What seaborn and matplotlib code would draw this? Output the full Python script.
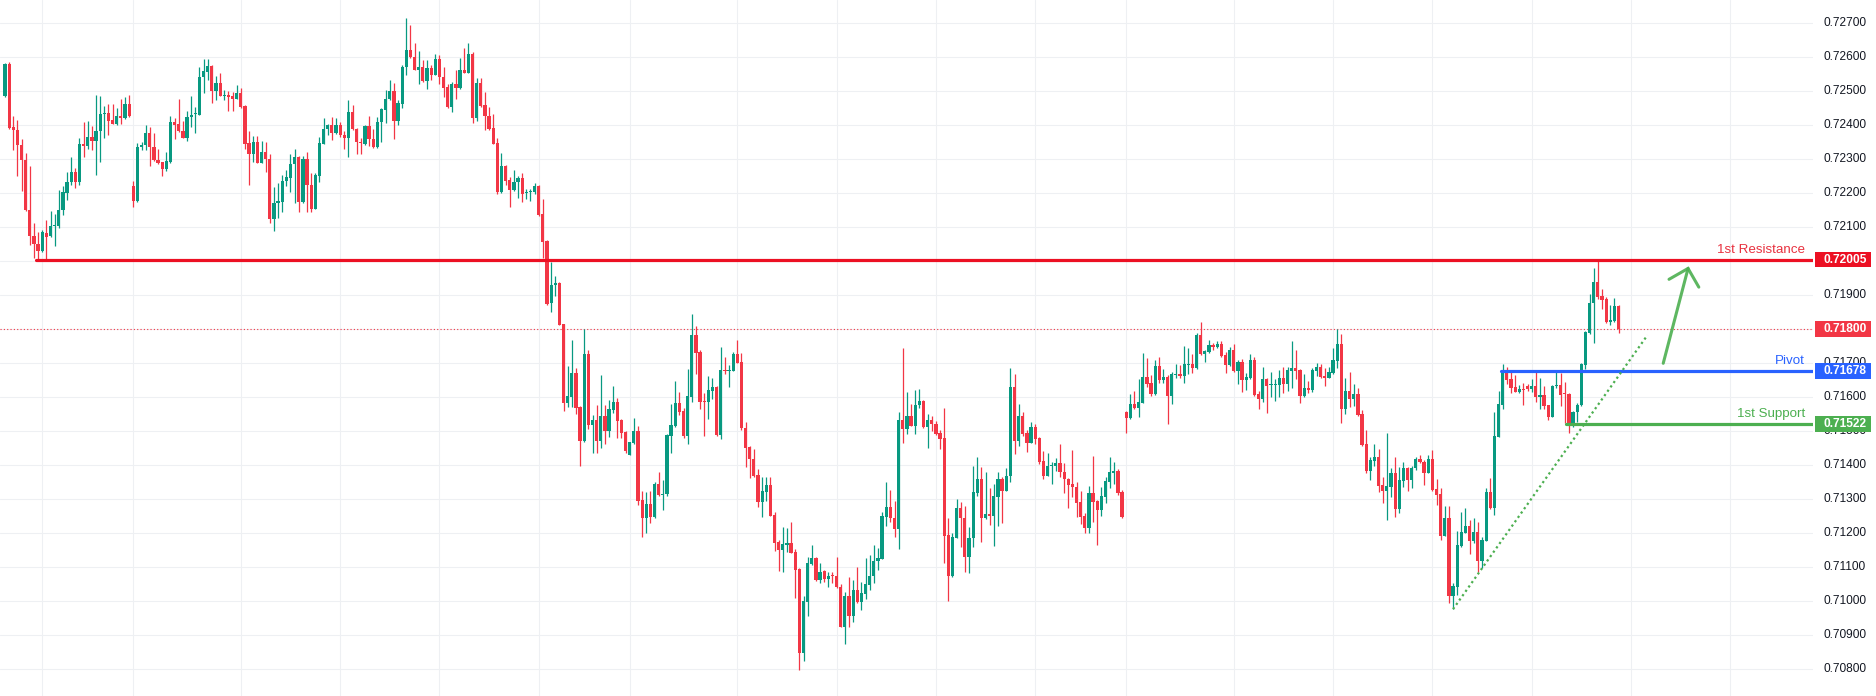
import numpy as np
import pandas as pd
import matplotlib
matplotlib.use("Agg")
import matplotlib.pyplot as plt
import seaborn as sns
from matplotlib.patches import Rectangle

# hourly candles (price)
opens = [
    0.72485, 0.72581, 0.72396, 0.72387, 0.72343, 0.72299, 0.72152, 0.72075, 0.72052, 0.72029,
    0.72084, 0.72073, 0.72105, 0.72105, 0.72150, 0.72202, 0.72232, 0.72263, 0.72234, 0.72346,
    0.72338, 0.72366, 0.72355, 0.72382, 0.72432, 0.72437, 0.72416, 0.72405, 0.72427, 0.72420,
    0.72463, 0.72222, 0.72176, 0.72335, 0.72341, 0.72378, 0.72337, 0.72299, 0.72292, 0.72270,
    0.72293, 0.72410, 0.72404, 0.72384, 0.72364, 0.72423, 0.72432, 0.72431, 0.72541, 0.72558,
    0.72575, 0.72502, 0.72525, 0.72487, 0.72489, 0.72486, 0.72478, 0.72495, 0.72457, 0.72348,
    0.72317, 0.72351, 0.72290, 0.72322, 0.72302, 0.72123, 0.72171, 0.72173, 0.72235, 0.72244,
    0.72287, 0.72308, 0.72173, 0.72302, 0.72224, 0.72155, 0.72252, 0.72346, 0.72388, 0.72400,
    0.72377, 0.72400, 0.72372, 0.72364, 0.72440, 0.72390, 0.72351, 0.72346, 0.72398, 0.72361,
    0.72337, 0.72410, 0.72446, 0.72476, 0.72502, 0.72414, 0.72464, 0.72570, 0.72622, 0.72600,
    0.72564, 0.72572, 0.72529, 0.72569, 0.72549, 0.72595, 0.72542, 0.72513, 0.72454, 0.72520,
    0.72511, 0.72564, 0.72555, 0.72610, 0.72421, 0.72525, 0.72459, 0.72428, 0.72393, 0.72348,
    0.72204, 0.72281, 0.72239, 0.72211, 0.72232, 0.72246, 0.72201, 0.72204, 0.72203, 0.72222,
    0.72139, 0.72059, 0.71876, 0.71929, 0.71937, 0.71815, 0.71584, 0.71602, 0.71671, 0.71571,
    0.71472, 0.71727, 0.71519, 0.71533, 0.71472, 0.71545, 0.71502, 0.71564, 0.71587, 0.71533,
    0.71498, 0.71431, 0.71466, 0.71500, 0.71298, 0.71246, 0.71286, 0.71249, 0.71345, 0.71313,
    0.71315, 0.71486, 0.71516, 0.71583, 0.71560, 0.71486, 0.71602, 0.71783, 0.71733, 0.71589,
    0.71587, 0.71619, 0.71631, 0.71489, 0.71680, 0.71678, 0.71678, 0.71727, 0.71704, 0.71511,
    0.71455, 0.71418, 0.71371, 0.71293, 0.71322, 0.71342, 0.71254, 0.71175, 0.71151, 0.71167,
    0.71171, 0.71145, 0.71094, 0.70849, 0.70999, 0.71110, 0.71126, 0.71063, 0.71089, 0.71066,
    0.71075, 0.71075, 0.71043, 0.70925, 0.71017, 0.70958, 0.71034, 0.70999, 0.71022, 0.71049,
    0.71073, 0.71118, 0.71125, 0.71249, 0.71277, 0.71246, 0.71214, 0.71533, 0.71507, 0.71545,
    0.71517, 0.71576, 0.71590, 0.71512, 0.71533, 0.71522, 0.71495, 0.71480, 0.71195, 0.71073,
    0.71187, 0.71274, 0.71246, 0.71131, 0.71185, 0.71320, 0.71360, 0.71246, 0.71257, 0.71252,
    0.71308, 0.71360, 0.71325, 0.71368, 0.71630, 0.71472, 0.71545, 0.71495, 0.71467, 0.71512,
    0.71480, 0.71413, 0.71370, 0.71397, 0.71397, 0.71408, 0.71381, 0.71360, 0.71345, 0.71337,
    0.71292, 0.71251, 0.71217, 0.71320, 0.71295, 0.71269, 0.71308, 0.71352, 0.71378, 0.71383,
    0.71322, 0.71557, 0.71540, 0.71580, 0.71569, 0.71584, 0.71660, 0.71641, 0.71610, 0.71692,
    0.71651, 0.71660, 0.71605, 0.71667, 0.71669, 0.71663, 0.71696, 0.71698, 0.71686, 0.71783,
    0.71727, 0.71733, 0.71754, 0.71748, 0.71757, 0.71724, 0.71695, 0.71739, 0.71677, 0.71704,
    0.71651, 0.71657, 0.71710, 0.71610, 0.71595, 0.71654, 0.71636, 0.71636, 0.71636, 0.71657,
    0.71639, 0.71678, 0.71686, 0.71680, 0.71604, 0.71627, 0.71621, 0.71678, 0.71689, 0.71663,
    0.71658, 0.71672, 0.71707, 0.71757, 0.71566, 0.71619, 0.71595, 0.71610, 0.71551, 0.71463,
    0.71383, 0.71413, 0.71424, 0.71342, 0.71324, 0.71336, 0.71377, 0.71272, 0.71355, 0.71391,
    0.71357, 0.71391, 0.71419, 0.71411, 0.71378, 0.71419, 0.71329, 0.71316, 0.71193, 0.71244,
    0.71017, 0.71042, 0.71164, 0.71202, 0.71222, 0.71176, 0.71204, 0.71120, 0.71178, 0.71322,
    0.71273, 0.71484, 0.71578, 0.71680, 0.71653, 0.71630, 0.71617, 0.71624, 0.71633, 0.71624,
    0.71633, 0.71602, 0.71607, 0.71576, 0.71543, 0.71634, 0.71636, 0.71610, 0.71610, 0.71524,
    0.71556, 0.71576, 0.71696, 0.71790, 0.71876, 0.71939, 0.71898, 0.71888, 0.71821, 0.71824,
    0.71869,
]
highs = [
    0.72583, 0.72585, 0.72428, 0.72416, 0.72360, 0.72318, 0.72279, 0.72114, 0.72086, 0.72093,
    0.72122, 0.72149, 0.72140, 0.72210, 0.72222, 0.72263, 0.72307, 0.72275, 0.72363, 0.72410,
    0.72413, 0.72398, 0.72490, 0.72485, 0.72457, 0.72463, 0.72463, 0.72451, 0.72478, 0.72484,
    0.72490, 0.72237, 0.72347, 0.72352, 0.72401, 0.72395, 0.72378, 0.72329, 0.72293, 0.72322,
    0.72428, 0.72422, 0.72478, 0.72413, 0.72442, 0.72487, 0.72454, 0.72572, 0.72595, 0.72595,
    0.72578, 0.72545, 0.72554, 0.72504, 0.72501, 0.72498, 0.72519, 0.72510, 0.72459, 0.72382,
    0.72369, 0.72369, 0.72355, 0.72351, 0.72317, 0.72219, 0.72229, 0.72255, 0.72269, 0.72316,
    0.72331, 0.72310, 0.72311, 0.72321, 0.72259, 0.72259, 0.72366, 0.72420, 0.72404, 0.72425,
    0.72422, 0.72410, 0.72384, 0.72475, 0.72460, 0.72392, 0.72363, 0.72400, 0.72428, 0.72390,
    0.72425, 0.72450, 0.72504, 0.72534, 0.72524, 0.72475, 0.72577, 0.72716, 0.72695, 0.72642,
    0.72619, 0.72593, 0.72593, 0.72576, 0.72610, 0.72607, 0.72572, 0.72520, 0.72527, 0.72564,
    0.72598, 0.72628, 0.72642, 0.72617, 0.72540, 0.72540, 0.72499, 0.72455, 0.72434, 0.72364,
    0.72319, 0.72283, 0.72249, 0.72269, 0.72250, 0.72261, 0.72213, 0.72213, 0.72230, 0.72225,
    0.72184, 0.72063, 0.71998, 0.71958, 0.71940, 0.71817, 0.71692, 0.71768, 0.71686, 0.71573,
    0.71800, 0.71739, 0.71548, 0.71577, 0.71665, 0.71577, 0.71592, 0.71633, 0.71597, 0.71536,
    0.71500, 0.71470, 0.71538, 0.71516, 0.71323, 0.71321, 0.71323, 0.71352, 0.71379, 0.71357,
    0.71492, 0.71580, 0.71648, 0.71616, 0.71568, 0.71683, 0.71845, 0.71810, 0.71739, 0.71614,
    0.71663, 0.71658, 0.71633, 0.71749, 0.71718, 0.71695, 0.71732, 0.71768, 0.71729, 0.71528,
    0.71457, 0.71449, 0.71389, 0.71367, 0.71367, 0.71367, 0.71264, 0.71180, 0.71220, 0.71216,
    0.71233, 0.71155, 0.71097, 0.71016, 0.71131, 0.71166, 0.71131, 0.71112, 0.71093, 0.71086,
    0.71086, 0.71131, 0.71050, 0.71026, 0.71071, 0.71063, 0.71100, 0.71058, 0.71128, 0.71137,
    0.71166, 0.71157, 0.71264, 0.71352, 0.71327, 0.71295, 0.71557, 0.71745, 0.71617, 0.71581,
    0.71622, 0.71625, 0.71592, 0.71552, 0.71545, 0.71529, 0.71505, 0.71570, 0.71246, 0.71200,
    0.71301, 0.71293, 0.71280, 0.71220, 0.71399, 0.71424, 0.71395, 0.71380, 0.71334, 0.71345,
    0.71380, 0.71367, 0.71392, 0.71686, 0.71669, 0.71580, 0.71557, 0.71505, 0.71528, 0.71522,
    0.71482, 0.71442, 0.71436, 0.71409, 0.71422, 0.71464, 0.71408, 0.71363, 0.71445, 0.71351,
    0.71324, 0.71261, 0.71339, 0.71428, 0.71297, 0.71337, 0.71367, 0.71424, 0.71410, 0.71389,
    0.71327, 0.71560, 0.71610, 0.71619, 0.71654, 0.71730, 0.71716, 0.71666, 0.71710, 0.71719,
    0.71683, 0.71666, 0.71674, 0.71698, 0.71695, 0.71751, 0.71745, 0.71727, 0.71789, 0.71821,
    0.71739, 0.71769, 0.71760, 0.71766, 0.71766, 0.71733, 0.71748, 0.71757, 0.71710, 0.71713,
    0.71672, 0.71727, 0.71719, 0.71619, 0.71689, 0.71657, 0.71674, 0.71654, 0.71680, 0.71689,
    0.71689, 0.71766, 0.71739, 0.71683, 0.71669, 0.71648, 0.71686, 0.71701, 0.71698, 0.71686,
    0.71689, 0.71745, 0.71801, 0.71786, 0.71657, 0.71674, 0.71639, 0.71627, 0.71563, 0.71504,
    0.71424, 0.71463, 0.71448, 0.71366, 0.71495, 0.71392, 0.71424, 0.71395, 0.71410, 0.71396,
    0.71398, 0.71424, 0.71430, 0.71416, 0.71430, 0.71445, 0.71360, 0.71334, 0.71280, 0.71280,
    0.71053, 0.71207, 0.71262, 0.71275, 0.71239, 0.71244, 0.71234, 0.71190, 0.71333, 0.71364,
    0.71557, 0.71618, 0.71698, 0.71690, 0.71677, 0.71666, 0.71635, 0.71641, 0.71638, 0.71653,
    0.71675, 0.71656, 0.71633, 0.71577, 0.71636, 0.71675, 0.71671, 0.71645, 0.71612, 0.71560,
    0.71582, 0.71700, 0.71794, 0.71904, 0.71980, 0.72006, 0.71919, 0.71896, 0.71872, 0.71891,
    0.71872,
]
lows = [
    0.72482, 0.72389, 0.72328, 0.72250, 0.72208, 0.72148, 0.72047, 0.72011, 0.72007, 0.72027,
    0.72005, 0.72071, 0.72044, 0.72097, 0.72137, 0.72179, 0.72223, 0.72217, 0.72223, 0.72308,
    0.72330, 0.72328, 0.72255, 0.72291, 0.72362, 0.72370, 0.72403, 0.72401, 0.72405, 0.72418,
    0.72424, 0.72161, 0.72174, 0.72328, 0.72326, 0.72279, 0.72296, 0.72285, 0.72252, 0.72267,
    0.72288, 0.72361, 0.72380, 0.72362, 0.72355, 0.72395, 0.72376, 0.72429, 0.72496, 0.72534,
    0.72467, 0.72475, 0.72485, 0.72473, 0.72441, 0.72443, 0.72476, 0.72452, 0.72331, 0.72223,
    0.72293, 0.72288, 0.72288, 0.72263, 0.72114, 0.72088, 0.72128, 0.72146, 0.72220, 0.72205,
    0.72170, 0.72146, 0.72171, 0.72146, 0.72144, 0.72153, 0.72232, 0.72344, 0.72370, 0.72358,
    0.72375, 0.72367, 0.72329, 0.72308, 0.72386, 0.72317, 0.72317, 0.72342, 0.72338, 0.72333,
    0.72333, 0.72352, 0.72408, 0.72474, 0.72361, 0.72400, 0.72450, 0.72548, 0.72598, 0.72562,
    0.72520, 0.72527, 0.72508, 0.72532, 0.72547, 0.72520, 0.72484, 0.72451, 0.72438, 0.72478,
    0.72508, 0.72553, 0.72553, 0.72408, 0.72414, 0.72455, 0.72385, 0.72385, 0.72344, 0.72197,
    0.72202, 0.72223, 0.72161, 0.72208, 0.72187, 0.72175, 0.72184, 0.72178, 0.72197, 0.72132,
    0.72009, 0.71872, 0.71852, 0.71897, 0.71812, 0.71561, 0.71572, 0.71572, 0.71550, 0.71399,
    0.71469, 0.71507, 0.71437, 0.71437, 0.71450, 0.71464, 0.71484, 0.71553, 0.71481, 0.71481,
    0.71437, 0.71429, 0.71464, 0.71282, 0.71190, 0.71202, 0.71229, 0.71246, 0.71310, 0.71269,
    0.71310, 0.71437, 0.71514, 0.71548, 0.71481, 0.71463, 0.71587, 0.71669, 0.71566, 0.71486,
    0.71536, 0.71595, 0.71486, 0.71477, 0.71669, 0.71631, 0.71676, 0.71700, 0.71504, 0.71396,
    0.71364, 0.71366, 0.71278, 0.71249, 0.71296, 0.71250, 0.71149, 0.71090, 0.71087, 0.71146,
    0.71141, 0.71009, 0.70798, 0.70824, 0.70958, 0.71107, 0.71060, 0.71055, 0.71058, 0.71041,
    0.71055, 0.71039, 0.70923, 0.70873, 0.70923, 0.70940, 0.70996, 0.70975, 0.71006, 0.71034,
    0.71053, 0.71091, 0.71123, 0.71222, 0.71232, 0.71190, 0.71153, 0.71467, 0.71493, 0.71515,
    0.71493, 0.71570, 0.71510, 0.71452, 0.71500, 0.71490, 0.71447, 0.71112, 0.71002, 0.71071,
    0.71185, 0.71161, 0.71087, 0.71084, 0.71161, 0.71311, 0.71175, 0.71242, 0.71224, 0.71164,
    0.71222, 0.71231, 0.71323, 0.71352, 0.71434, 0.71458, 0.71487, 0.71440, 0.71465, 0.71464,
    0.71405, 0.71359, 0.71368, 0.71346, 0.71384, 0.71366, 0.71320, 0.71275, 0.71306, 0.71249,
    0.71227, 0.71200, 0.71200, 0.71234, 0.71166, 0.71251, 0.71290, 0.71334, 0.71346, 0.71313,
    0.71244, 0.71496, 0.71537, 0.71566, 0.71543, 0.71582, 0.71630, 0.71605, 0.71607, 0.71643,
    0.71643, 0.71521, 0.71580, 0.71657, 0.71657, 0.71642, 0.71669, 0.71672, 0.71684, 0.71724,
    0.71704, 0.71730, 0.71739, 0.71746, 0.71719, 0.71672, 0.71693, 0.71675, 0.71639, 0.71616,
    0.71621, 0.71655, 0.71605, 0.71566, 0.71586, 0.71554, 0.71601, 0.71589, 0.71601, 0.71613,
    0.71619, 0.71627, 0.71654, 0.71583, 0.71602, 0.71613, 0.71616, 0.71663, 0.71658, 0.71633,
    0.71657, 0.71670, 0.71686, 0.71524, 0.71551, 0.71572, 0.71574, 0.71546, 0.71458, 0.71377,
    0.71357, 0.71398, 0.71322, 0.71289, 0.71240, 0.71307, 0.71248, 0.71260, 0.71337, 0.71323,
    0.71334, 0.71386, 0.71406, 0.71342, 0.71376, 0.71325, 0.71283, 0.71180, 0.71191, 0.70996,
    0.70977, 0.71019, 0.71161, 0.71200, 0.71140, 0.71171, 0.71087, 0.71097, 0.71176, 0.71271,
    0.71255, 0.71482, 0.71567, 0.71639, 0.71613, 0.71615, 0.71612, 0.71577, 0.71620, 0.71616,
    0.71587, 0.71567, 0.71565, 0.71533, 0.71541, 0.71626, 0.71573, 0.71524, 0.71494, 0.71512,
    0.71526, 0.71573, 0.71683, 0.71785, 0.71759, 0.71889, 0.71859, 0.71819, 0.71814, 0.71822,
    0.71790,
]
closes = [
    0.72581, 0.72392, 0.72385, 0.72341, 0.72297, 0.72150, 0.72073, 0.72050, 0.72029, 0.72085,
    0.72072, 0.72105, 0.72107, 0.72152, 0.72204, 0.72234, 0.72263, 0.72234, 0.72346, 0.72338,
    0.72366, 0.72355, 0.72384, 0.72434, 0.72437, 0.72414, 0.72405, 0.72427, 0.72420, 0.72463,
    0.72426, 0.72176, 0.72337, 0.72343, 0.72378, 0.72335, 0.72297, 0.72290, 0.72270, 0.72296,
    0.72410, 0.72401, 0.72382, 0.72364, 0.72425, 0.72431, 0.72434, 0.72543, 0.72560, 0.72575,
    0.72502, 0.72525, 0.72487, 0.72489, 0.72484, 0.72478, 0.72495, 0.72454, 0.72346, 0.72317,
    0.72351, 0.72290, 0.72322, 0.72300, 0.72123, 0.72172, 0.72176, 0.72237, 0.72247, 0.72287,
    0.72308, 0.72173, 0.72302, 0.72223, 0.72155, 0.72255, 0.72347, 0.72390, 0.72400, 0.72377,
    0.72400, 0.72370, 0.72364, 0.72440, 0.72388, 0.72350, 0.72347, 0.72398, 0.72359, 0.72337,
    0.72410, 0.72448, 0.72478, 0.72502, 0.72414, 0.72466, 0.72572, 0.72622, 0.72600, 0.72564,
    0.72572, 0.72529, 0.72569, 0.72549, 0.72595, 0.72542, 0.72511, 0.72454, 0.72520, 0.72511,
    0.72564, 0.72555, 0.72610, 0.72421, 0.72525, 0.72457, 0.72426, 0.72390, 0.72346, 0.72204,
    0.72281, 0.72237, 0.72211, 0.72234, 0.72246, 0.72199, 0.72203, 0.72206, 0.72222, 0.72137,
    0.72057, 0.71874, 0.71931, 0.71937, 0.71814, 0.71584, 0.71604, 0.71671, 0.71569, 0.71472,
    0.71727, 0.71519, 0.71533, 0.71472, 0.71545, 0.71502, 0.71566, 0.71587, 0.71531, 0.71496,
    0.71443, 0.71468, 0.71500, 0.71296, 0.71246, 0.71286, 0.71249, 0.71345, 0.71313, 0.71317,
    0.71489, 0.71518, 0.71583, 0.71558, 0.71486, 0.71604, 0.71783, 0.71731, 0.71587, 0.71587,
    0.71621, 0.71631, 0.71489, 0.71680, 0.71678, 0.71680, 0.71727, 0.71702, 0.71509, 0.71452,
    0.71418, 0.71369, 0.71293, 0.71324, 0.71342, 0.71252, 0.71172, 0.71151, 0.71169, 0.71172,
    0.71143, 0.71092, 0.70849, 0.71001, 0.71112, 0.71126, 0.71063, 0.71087, 0.71066, 0.71075,
    0.71073, 0.71041, 0.70925, 0.71017, 0.70958, 0.71034, 0.70999, 0.71024, 0.71051, 0.71075,
    0.71120, 0.71127, 0.71252, 0.71277, 0.71244, 0.71214, 0.71533, 0.71507, 0.71545, 0.71517,
    0.71578, 0.71590, 0.71512, 0.71533, 0.71522, 0.71493, 0.71478, 0.71193, 0.71073, 0.71190,
    0.71274, 0.71244, 0.71131, 0.71187, 0.71321, 0.71360, 0.71246, 0.71257, 0.71252, 0.71310,
    0.71360, 0.71325, 0.71368, 0.71630, 0.71472, 0.71545, 0.71493, 0.71467, 0.71512, 0.71478,
    0.71410, 0.71370, 0.71399, 0.71399, 0.71408, 0.71379, 0.71359, 0.71343, 0.71335, 0.71290,
    0.71249, 0.71217, 0.71320, 0.71293, 0.71269, 0.71310, 0.71354, 0.71380, 0.71383, 0.71318,
    0.71247, 0.71540, 0.71580, 0.71569, 0.71586, 0.71660, 0.71639, 0.71610, 0.71692, 0.71651,
    0.71660, 0.71605, 0.71669, 0.71669, 0.71663, 0.71698, 0.71698, 0.71686, 0.71783, 0.71727,
    0.71736, 0.71754, 0.71748, 0.71757, 0.71721, 0.71695, 0.71739, 0.71677, 0.71704, 0.71651,
    0.71660, 0.71710, 0.71607, 0.71595, 0.71654, 0.71633, 0.71638, 0.71638, 0.71657, 0.71639,
    0.71680, 0.71686, 0.71677, 0.71604, 0.71627, 0.71621, 0.71680, 0.71689, 0.71660, 0.71658,
    0.71674, 0.71710, 0.71757, 0.71566, 0.71619, 0.71595, 0.71610, 0.71548, 0.71460, 0.71383,
    0.71416, 0.71424, 0.71339, 0.71324, 0.71339, 0.71377, 0.71272, 0.71357, 0.71391, 0.71357,
    0.71393, 0.71419, 0.71411, 0.71378, 0.71419, 0.71327, 0.71314, 0.71193, 0.71244, 0.71017,
    0.71044, 0.71166, 0.71204, 0.71222, 0.71176, 0.71204, 0.71120, 0.71180, 0.71322, 0.71273,
    0.71486, 0.71580, 0.71680, 0.71651, 0.71628, 0.71617, 0.71624, 0.71622, 0.71624, 0.71633,
    0.71602, 0.71607, 0.71573, 0.71543, 0.71633, 0.71636, 0.71608, 0.71609, 0.71524, 0.71556,
    0.71577, 0.71698, 0.71792, 0.71878, 0.71939, 0.71896, 0.71886, 0.71821, 0.71826, 0.71869,
    0.71800,
]

price_ticks = [0.708, 0.709, 0.710, 0.711, 0.712, 0.713, 0.714, 0.715, 0.716, 0.717,
               0.718, 0.719, 0.720, 0.721, 0.722, 0.723, 0.724, 0.725, 0.726, 0.727]
day_breaks = [9, 31, 57, 81, 105, 129, 151, 177, 201, 225, 249, 271, 297, 321, 345, 369, 393, 417]

resistance, pivot, support, last_price = 0.72005, 0.71678, 0.71522, 0.71800
resistance_from, pivot_from, support_from = 7.6, 361.5, 377.4
trend_from, trend_to = (350, 0.70977), (397, 0.71783)
arrow_tail, arrow_tip = (400.8, 0.71700), (406.8, 0.71979)
arrow_left, arrow_right = (402.2, 0.71947), (409.4, 0.71924)

UP, DOWN = "#089981", "#f23645"
RED, BLUE, GREEN = "#ec1023", "#2962ff", "#4caf50"

df = pd.DataFrame({"open": opens, "high": highs, "low": lows, "close": closes})
df["bar"] = np.arange(len(df))
df["color"] = np.where(df["close"] >= df["open"], UP, DOWN)
df["body_lo"] = df[["open", "close"]].min(axis=1)
df["body_h"] = (df["close"] - df["open"]).abs().clip(lower=0.00003)

sns.set_style("white")
plt.rcParams["font.family"] = ["Liberation Sans", "DejaVu Sans"]

W, H = 1876, 696
plot_w = 1813
fig = plt.figure(figsize=(W / 100, H / 100), dpi=100)
ax = fig.add_axes([0, 0, plot_w / W, 1])
axp = fig.add_axes([plot_w / W, 0, 1 - plot_w / W, 1])

y_top, y_bot = 0.727685, 0.707215
x_left, x_right = -1.21, 437.0
ax.set_xlim(x_left, x_right)
ax.set_ylim(y_bot, y_top)

# grid
ax.set_yticks(price_ticks)
ax.set_xticks(day_breaks)
ax.grid(True, color="#eef0f3", lw=0.8)
ax.tick_params(length=0, labelleft=False, labelbottom=False)
for s in ax.spines.values():
    s.set_visible(False)

# candles
ax.vlines(df["bar"], df["low"], df["high"], colors=df["color"], lw=0.9, zorder=3)
ax.bar(df["bar"], df["body_h"], bottom=df["body_lo"], width=0.78,
       color=df["color"], linewidth=0, zorder=4)

# levels
ax.axhline(last_price, color=DOWN, lw=0.8, ls=(0, (1, 2)), zorder=2)
ax.plot([resistance_from, x_right], [resistance, resistance], color=RED, lw=2.3, zorder=5)
ax.plot([pivot_from, x_right], [pivot, pivot], color=BLUE, lw=2.3, zorder=5)
ax.plot([support_from, x_right], [support, support], color=GREEN, lw=2.3, zorder=5)

sns.lineplot(x=[trend_from[0], trend_to[0]], y=[trend_from[1], trend_to[1]], ax=ax,
             color=GREEN, lw=1.6, zorder=6)
ax.lines[-1].set_linestyle((0, (1, 1.4)))

ax.plot([arrow_tail[0], arrow_tip[0]], [arrow_tail[1], arrow_tip[1]],
        color=GREEN, lw=2.2, alpha=0.9, solid_capstyle="round", zorder=6)
ax.plot([arrow_left[0], arrow_tip[0], arrow_right[0]],
        [arrow_left[1], arrow_tip[1], arrow_right[1]],
        color=GREEN, lw=2.2, alpha=0.9, solid_capstyle="round",
        solid_joinstyle="miter", zorder=6)

for txt, lvl, col in [("1st Resistance", resistance, "#e8313f"),
                      ("Pivot", pivot, BLUE),
                      ("1st Support", support, GREEN)]:
    ax.annotate(txt, xy=(1, lvl), xycoords=("axes fraction", "data"),
                xytext=(-8, 7), textcoords="offset pixels",
                ha="right", va="baseline", fontsize=9.6, color=col, zorder=7)

# price scale
axp.set_xlim(0, W - plot_w)
axp.set_ylim(y_bot, y_top)
axp.axis("off")
for v in price_ticks:
    axp.text(10, v, f"{v:.5f}", ha="left", va="center", fontsize=8.6, color="#131722")

box_h = 0.00046
for v, col in [(resistance, RED), (last_price, DOWN), (pivot, BLUE), (support, GREEN)]:
    axp.add_patch(Rectangle((2, v - box_h / 2), 56, box_h, color=col, lw=0, zorder=3))
    axp.text(10, v, f"{v:.5f}", ha="left", va="center", fontsize=8.6,
             color="white", fontweight="bold", zorder=4)

fig.savefig("out.png", dpi=100, facecolor="white")
